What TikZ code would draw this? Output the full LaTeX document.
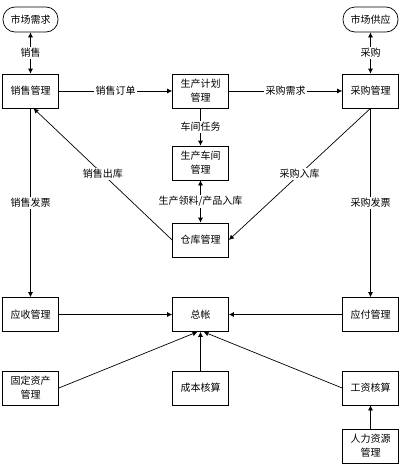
\documentclass[tikz,border=0pt]{standalone}
\usepackage{fontspec}
\newfontfamily\cjk{Noto Sans CJK SC}
\usetikzlibrary{arrows.meta}
\tikzset{box/.style={draw, minimum width=56pt, minimum height=34pt, inner sep=1pt, align=center, font=\cjk\fontsize{10}{14}\selectfont}}
\tikzset{market/.style={draw, rounded corners=12pt, minimum width=55pt, minimum height=25pt, inner sep=1pt, font=\cjk\fontsize{10}{14}\selectfont}}
\tikzset{lab/.style={fill=white, inner sep=1.5pt, font=\cjk\fontsize{10}{12}\selectfont}}
\tikzset{arr/.style={-{Latex[length=5pt,width=5pt]}}}
\tikzset{darr/.style={{Latex[length=5pt,width=5pt]}-{Latex[length=5pt,width=5pt]}}}

\begin{document}
\begin{tikzpicture}[x=1pt,y=-1pt,line width=0.7pt]
\useasboundingbox (0,0) rectangle (401,466);

\node[market] (need) at (30.5,19.5) {市场需求};
\node[market] (supply) at (370.5,19.5) {市场供应};

\node[box] (sale) at (30.5,91) {销售管理};
\node[box] (plan) at (200.5,91) {生产计划\\管理};
\node[box] (buy) at (370.5,91) {采购管理};
\node[box] (shop) at (200.5,163) {生产车间\\管理};
\node[box] (store) at (200.5,240) {仓库管理};

\node[box] (recv) at (30.5,314.5) {应收管理};
\node[box] (ledger) at (200.5,314.5) {总帐};
\node[box] (pay) at (370.5,314.5) {应付管理};
\node[box] (fixed) at (30.5,388) {固定资产\\管理};
\node[box] (cost) at (200.5,388) {成本核算};
\node[box] (wage) at (370.5,388) {工资核算};
\node[box] (hr) at (370.5,446) {人力资源\\管理};

\draw[darr] (need) -- (sale) node[midway,lab]{销售};
\draw[darr] (supply) -- (buy) node[midway,lab]{采购};
\draw[arr] (sale) -- (plan) node[midway,lab]{销售订单};
\draw[arr] (plan) -- (buy) node[midway,lab]{采购需求};
\draw[arr] (plan) -- (shop) node[midway,lab]{车间任务};
\draw[darr] (shop) -- (store) node[midway,lab]{生产领料/产品入库};

\draw[arr] (store.west) -- ([xshift=3pt]sale.south) node[midway,lab]{销售出库};
\draw[arr] (buy.south) -- (store.east) node[midway,lab]{采购入库};
\draw[arr] (sale) -- (recv) node[midway,lab]{销售发票};
\draw[arr] (buy) -- (pay) node[midway,lab]{采购发票};

\draw[arr] (recv) -- (ledger);
\draw[arr] (pay) -- (ledger);
\draw[arr] (fixed.east) -- ([xshift=-3pt]ledger.south);
\draw[arr] (cost) -- (ledger);
\draw[arr] (wage.west) -- ([xshift=3pt]ledger.south);
\draw[arr] (hr) -- (wage);

\end{tikzpicture}
\end{document}
